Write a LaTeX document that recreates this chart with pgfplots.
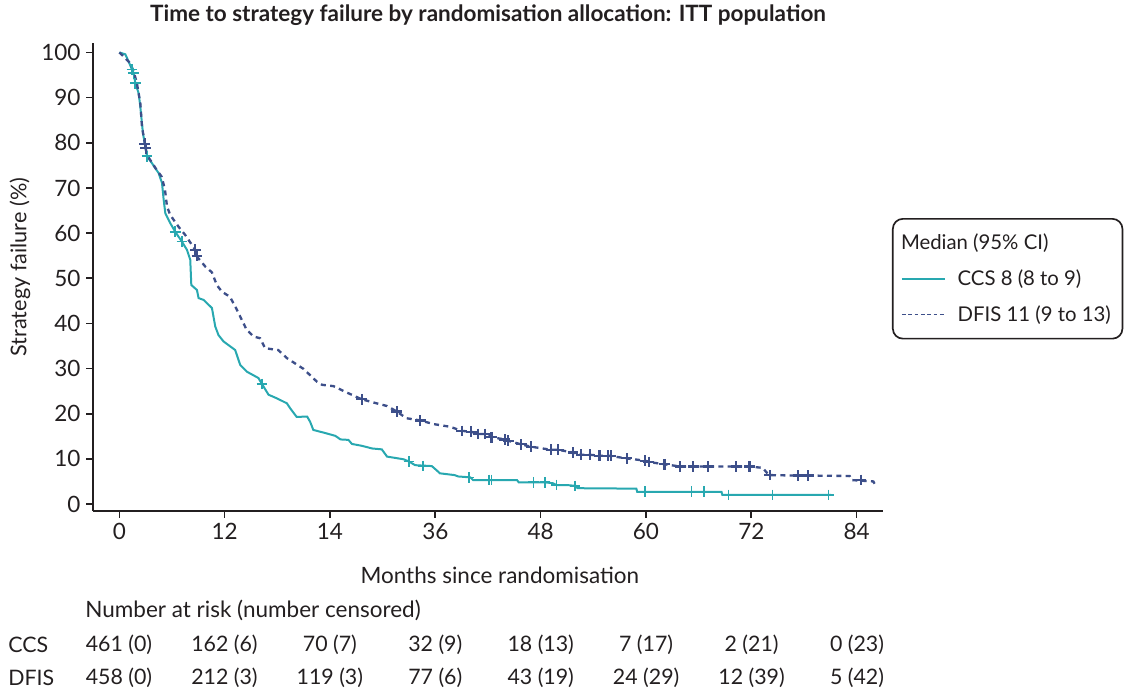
\documentclass[border=0pt]{standalone}
\usepackage{pgfplots}
\pgfplotsset{compat=1.18}
\usepackage{fontspec}
\setmainfont{Lato}
\definecolor{ccs}{RGB}{40,168,176}
\definecolor{dfis}{RGB}{61,79,138}
\definecolor{axc}{RGB}{35,31,32}
\begin{document}
\begin{tikzpicture}
\useasboundingbox (0pt,0pt) rectangle (675pt,-414pt);
\begin{axis}[
  at={(55.8pt,-306.6pt)}, anchor=south west,
  scale only axis, width=474pt, height=280.8pt,
  xmin=-3, xmax=87, ymin=-1.55, ymax=102.1,
  axis x line*=bottom, axis y line*=left,
  axis line style={-, line width=1.2pt, axc},
  xtick={0,12,24,36,48,60,72,84},
  xticklabels={0,12,14,36,48,60,72,84},
  ytick={0,10,...,100},
  tick align=outside, major tick length=4pt,
  tick style={line width=1pt, axc},
  /pgf/number format/assume math mode=true,
  ticklabel style={font=\fontsize{13.5}{15}\selectfont, text=axc},
  xlabel={Months since randomisation},
  ylabel={Strategy failure (\%)},
  xlabel style={at={(axis description cs:0.515,-0.137)}, anchor=center, font=\fontsize{13.5}{15}\selectfont, text=axc},
  ylabel style={at={(axis description cs:-0.0924,0.521)}, anchor=center, rotate=0, font=\fontsize{13}{15}\selectfont, text=axc},
  title={Time to strategy failure by randomisation allocation: ITT population},
  title style={at={(axis description cs:0.5,1.0385)}, anchor=center, font=\bfseries\fontsize{13.5}{15}\selectfont, text=axc},
  legend style={at={(1.0114,0.626)}, anchor=north west, draw=axc, line width=1pt, rounded corners=6pt,
    font=\fontsize{12.2}{14}\selectfont, text=axc, inner xsep=5pt, inner ysep=7pt, row sep=6.5pt, column sep=5pt,
    cells={anchor=west}},
  legend image code/.code={\draw[line width=0.9pt, #1] (0pt,0pt) -- (26pt,0pt);},
]
% CCS curve
\addplot[ccs, line width=1.2pt, forget plot] coordinates {
(0,100) (0.68,99.6) (1.06,98) (1.44,96.2) (1.63,95.4) (1.82,93.2) (2.2,91) (2.39,88) (2.69,82.1) (2.96,79.2) (3.15,77) (3.71,75.5) (4.47,73.3) (4.86,71.1) (5.05,67.4) (5.24,64.4) (5.8,62.2) (6.37,60.3) (7.13,58.1) (7.7,56.3) (8.08,54.1) (8.2,48.5) (8.84,47.4) (9.03,45.6) (9.6,45.2) (10.55,43.4) (10.93,39.3) (11.3,37.4) (11.87,36) (13.2,34.1) (13.77,30.8) (14.53,29.3) (15.85,27.9) (16.24,26.6) (17,24.2) (17.95,23.4) (19.09,22.3) (19.46,21.2) (20.2,19.3) (21.4,19.35) (21.74,18.2) (22.1,16.4) (23.3,15.8) (24.6,15.1) (25.2,14.3) (26.1,14.2) (26.5,13.3) (27.6,12.9) (28.8,12.3) (29.9,12.1) (30.5,10.5) (32.4,9.9) (33.0,9.4) (33.7,8.6) (35.6,8.4) (36.3,7.2) (36.5,6.8) (38.2,6.4) (38.6,6.1) (40.0,5.9) (40.3,5.3) (45.3,5.3) (45.5,4.8) (48.5,4.8) (49.4,4.6) (49.8,4.2) (51.0,4.2) (52.0,4.0) (52.2,3.5) (58.9,3.4) (59.0,2.7) (68.6,2.7) (68.7,2.0) (81.1,2.0)
};
\addplot[ccs, only marks, mark=+, mark size=3.2pt, mark options={line width=1pt}, forget plot] coordinates {
(1.44,96.2) (1.63,95.4) (1.82,93.2) (3.15,77) (6.37,60.3) (7.13,58.1) (16.24,26.6) (33.0,9.4) (34.6,8.4) (39.8,5.9) (42.1,5.3) (42.4,5.3) (47.2,4.8) (48.5,4.8) (49.8,4.2) (51.9,4.0) (59.9,2.7) (65.2,2.7) (66.6,2.7) (69.4,2.0) (74.4,2.0) (80.8,2.0)
};
% DFIS curve
\addplot[dfis, line width=1.4pt, dash pattern=on 3pt off 2.6pt, forget plot] coordinates {
(0,100) (0.45,99.2) (1.25,97.6) (1.63,95.8) (2.0,93.2) (2.39,88.8) (2.58,83.6) (2.96,79.2) (3.15,77.3) (4.25,74) (4.82,72.5) (5.2,69.6) (5.43,65.9) (5.8,64.0) (6.75,61.4) (7.5,59.6) (8.65,56.3) (8.84,54.8) (9.79,52.6) (10.55,51.3) (11.1,48.5) (11.7,47.0) (12.6,45.9) (13.4,43.0) (14.5,38.6) (15.3,37.1) (16.05,36.7) (16.6,34.5) (18.1,34.1) (19.1,32.3) (21,29.9) (22.5,27.1) (23.1,26.4) (24.4,26.1) (25.9,24.7) (27.6,23.2) (29.3,22.3) (30.5,21.7) (31.6,20.5) (32.7,19.0) (34.3,18.5) (35.8,17.7) (37.7,17.1) (39.0,16.2) (40.1,16.0) (40.9,15.5) (41.7,15.5) (42.4,14.8) (43.9,14.3) (44.3,14.0) (45.8,13.2) (46.9,12.7) (49.2,12.0) (50.0,12.0) (51.7,11.4) (52.6,10.9) (53.6,10.9) (54.7,10.7) (55.7,10.7) (57.8,10.1) (59.9,9.6) (60.3,9.3) (62.1,8.8) (63.9,8.3) (65.4,8.3) (67.1,8.3) (70.3,8.3) (71.8,8.3) (73.3,8.0) (74.0,6.4) (77.3,6.3) (78.5,6.3) (83.2,6.2) (83.4,5.3) (85.9,5.0) (86.2,3.9)
};
\addplot[dfis, only marks, mark=+, mark size=3.2pt, mark options={line width=1.3pt}, forget plot] coordinates {
(2.9,79.8) (3.0,78.8) (8.65,56.3) (8.84,55.0) (27.6,23.2) (31.6,20.5) (34.3,18.5) (39.0,16.2) (40.1,16.0) (40.9,15.5) (41.7,15.5) (42.4,14.8) (43.9,14.3) (44.3,14.0) (45.8,13.2) (46.9,12.7) (49.2,12.0) (50.0,12.0) (51.7,11.4) (52.6,10.9) (53.6,10.9) (54.7,10.7) (55.7,10.7) (56.0,10.7) (57.8,10.1) (59.9,9.6) (60.3,9.3) (62.1,8.8) (63.9,8.3) (65.4,8.3) (67.1,8.3) (70.3,8.3) (71.8,8.3) (74.1,6.4) (77.3,6.3) (78.5,6.3) (84.5,5.3)
};
\addlegendimage{legend image code/.code={}}
\addlegendentry{\hspace*{-34pt}Median (95\% CI)}
\addlegendimage{ccs, line width=1.1pt}
\addlegendentry{CCS 8 (8 to 9)}
\addlegendimage{dfis, line width=0.9pt, dash pattern=on 2.2pt off 1.6pt}
\addlegendentry{DFIS 11 (9 to 13)}
\end{axis}
\begin{scope}[x=0.6pt, y=-0.6pt, every node/.style={font=\fontsize{12.8}{15}\selectfont, text=axc, inner sep=0pt}]
\node[anchor=west, font=\fontsize{13.5}{15}\selectfont] at (85,610) {Number at risk (number censored)};
\node[anchor=west] at (8,645) {CCS};
\node[anchor=west] at (8,678) {DFIS};
\foreach \v [count=\i from 0] in {461 (0),162 (6),70 (7),32 (9),18 (13),7 (17),2 (21),0 (23)}
  \node at ({119+105.43*\i},645) {\v};
\foreach \v [count=\i from 0] in {458 (0),212 (3),119 (3),77 (6),43 (19),24 (29),12 (39),5 (42)}
  \node at ({119+105.43*\i},678) {\v};
\end{scope}
\end{tikzpicture}
\end{document}
